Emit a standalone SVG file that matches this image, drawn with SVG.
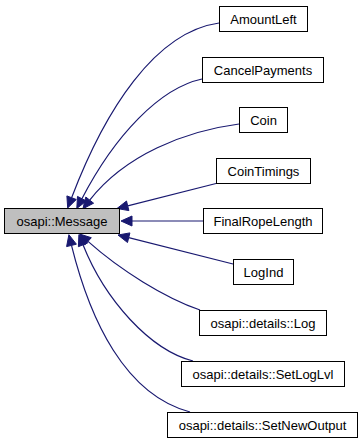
<svg xmlns="http://www.w3.org/2000/svg" width="364" height="443" viewBox="0 0 364 443">
  <style>
    .node rect { fill: #ffffff; stroke: #000000; stroke-width: 1; }
    .node.current rect { fill: #bfbfbf; }
    .node text { font-family: "Liberation Sans", Arial, sans-serif; font-size: 13px; fill: #000000; text-anchor: middle; }
    .edge path, .edge line { fill: none; stroke: #191970; stroke-width: 1.2; }
    .edge polygon { fill: #191970; stroke: #191970; stroke-width: 1; }
  </style>
  <rect x="0" y="0" width="364" height="443" fill="#ffffff"/>

  <g id="edges">
    <g class="edge" id="edge-AmountLeft">
      <path d="M219,23 C155,32 105,110 71.6,197.7"/>
      <polygon points="67.7,208 66.9,195.9 76.3,199.5"/>
    </g>
    <g class="edge" id="edge-CancelPayments">
      <path d="M202,79 C160,88 115,135 81.9,198.7"/>
      <polygon points="76.8,208.5 77.5,196.4 86.3,201"/>
    </g>
    <g class="edge" id="edge-Coin">
      <path d="M239,124 C185,131 125,155 89.7,200.1"/>
      <polygon points="82.9,208.8 85.8,197 93.6,203.2"/>
    </g>
    <g class="edge" id="edge-CoinTimings">
      <line x1="216" y1="183.5" x2="127.7" y2="205.8"/>
      <polygon points="117,208.5 126.5,201 128.9,210.6"/>
    </g>
    <g class="edge" id="edge-FinalRopeLength">
      <line x1="203" y1="221" x2="132" y2="221"/>
      <polygon points="121,221 132,216 132,226"/>
    </g>
    <g class="edge" id="edge-LogInd">
      <line x1="233" y1="264" x2="128.7" y2="237.7"/>
      <polygon points="118,235 129.9,232.9 127.5,242.5"/>
    </g>
    <g class="edge" id="edge-Log">
      <path d="M200,310 C165,298 120,270 88,241.4"/>
      <polygon points="79.8,234.1 91.3,237.7 84.7,245.1"/>
    </g>
    <g class="edge" id="edge-SetLogLvl">
      <path d="M193,361 C150,350 105,300 83,244.8"/>
      <polygon points="78.9,234.6 87.6,242.9 78.4,246.7"/>
    </g>
    <g class="edge" id="edge-SetNewOutput">
      <path d="M190,412 C125,395 90,320 71.5,245.4"/>
      <polygon points="68.9,234.7 76.4,244.2 66.6,246.6"/>
    </g>
  </g>

  <g id="Message" class="node current">
    <rect x="4.5" y="208.5" width="115" height="25"/>
    <text x="62" y="226">osapi::Message</text>
  </g>
  <g id="AmountLeft" class="node">
    <rect x="219.5" y="6.5" width="88" height="25"/>
    <text x="263.5" y="24">AmountLeft</text>
  </g>
  <g id="CancelPayments" class="node">
    <rect x="202.5" y="57.5" width="121" height="25"/>
    <text x="263" y="75">CancelPayments</text>
  </g>
  <g id="Coin" class="node">
    <rect x="239.5" y="107.5" width="48" height="25"/>
    <text x="263.5" y="125">Coin</text>
  </g>
  <g id="CoinTimings" class="node">
    <rect x="216.5" y="158.5" width="94" height="25"/>
    <text x="263.5" y="176">CoinTimings</text>
  </g>
  <g id="FinalRopeLength" class="node">
    <rect x="203.5" y="208.5" width="119" height="25"/>
    <text x="263" y="226">FinalRopeLength</text>
  </g>
  <g id="LogInd" class="node">
    <rect x="233.5" y="259.5" width="60" height="25"/>
    <text x="263.5" y="277">LogInd</text>
  </g>
  <g id="Log" class="node">
    <rect x="199.5" y="310.5" width="127" height="25"/>
    <text x="263" y="328">osapi::details::Log</text>
  </g>
  <g id="SetLogLvl" class="node">
    <rect x="181.5" y="361.5" width="163" height="25"/>
    <text x="263" y="379">osapi::details::SetLogLvl</text>
  </g>
  <g id="SetNewOutput" class="node">
    <rect x="167.5" y="412.5" width="190" height="25"/>
    <text x="262.5" y="430">osapi::details::SetNewOutput</text>
  </g>
</svg>
